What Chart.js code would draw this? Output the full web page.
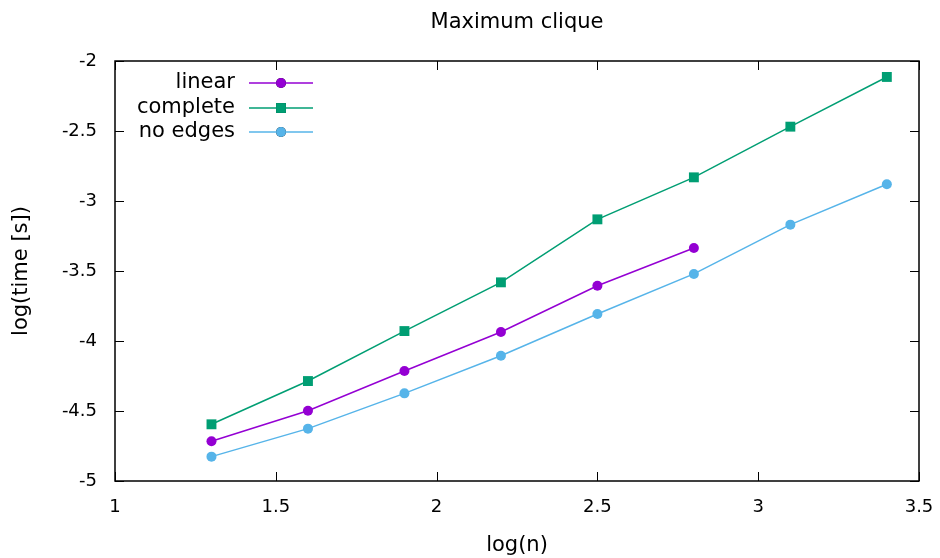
<!DOCTYPE html>
<html>
<head>
<meta charset="utf-8">
<script src="https://cdn.jsdelivr.net/npm/chart.js@4.4.1/dist/chart.umd.min.js"></script>
<style>
  html, body { margin: 0; padding: 0; background: #fff; }
  #wrap { width: 940px; height: 558px; }
</style>
</head>
<body>
<div id="wrap"><canvas id="chart"></canvas></div>
<script>
// log(n) positions
const logN = [1.3, 1.6, 1.9, 2.2, 2.5, 2.8, 3.1, 3.4];

// log(time [s]) per graph type
const linearTimes   = [-4.716, -4.498, -4.214, -3.936, -3.605, -3.336];
const completeTimes = [-4.595, -4.286, -3.929, -3.581, -3.131, -2.831, -2.469, -2.114];
const noEdgeTimes   = [-4.826, -4.626, -4.374, -4.105, -3.807, -3.521, -3.169, -2.880];

const FONT = 'DejaVu Sans, sans-serif';

function pts(ys) {
    return ys.map((y, i) => ({ x: logN[i], y: y }));
}

// gnuplot style: inward ticks on all four sides, box, title, legend
const gnuplotLook = {
    id: 'gnuplotLook',
    afterDraw(chart) {
        const ctx = chart.ctx;
        const a = chart.chartArea;
        const xs = chart.scales.x, ys = chart.scales.y;
        ctx.save();
        ctx.strokeStyle = '#000';
        ctx.lineWidth = 1;
        ctx.beginPath();
        xs.ticks.forEach(t => {
            const px = Math.round(xs.getPixelForValue(t.value)) + 0.5;
            ctx.moveTo(px, a.bottom); ctx.lineTo(px, a.bottom - 9);
            ctx.moveTo(px, a.top); ctx.lineTo(px, a.top + 9);
        });
        ys.ticks.forEach(t => {
            const py = Math.round(ys.getPixelForValue(t.value)) + 0.5;
            ctx.moveTo(a.left, py); ctx.lineTo(a.left + 9, py);
            ctx.moveTo(a.right, py); ctx.lineTo(a.right - 9, py);
        });
        ctx.stroke();
        ctx.lineWidth = 1.5;
        ctx.strokeRect(a.left, a.top, a.right - a.left, a.bottom - a.top);

        // title
        ctx.fillStyle = '#000';
        ctx.font = '21px ' + FONT;
        ctx.textAlign = 'center';
        ctx.textBaseline = 'middle';
        ctx.fillText('Maximum clique', (a.left + a.right) / 2, 23);

        // legend, text left of sample
        const rows = [83, 108, 132];
        chart.data.datasets.forEach((ds, i) => {
            const y = rows[i];
            ctx.textAlign = 'right';
            ctx.fillStyle = '#000';
            ctx.fillText(ds.label, 235, y);
            ctx.strokeStyle = ds.borderColor;
            ctx.lineWidth = 1.5;
            ctx.beginPath();
            ctx.moveTo(249, y); ctx.lineTo(313, y);
            ctx.stroke();
            Chart.helpers.drawPoint(ctx, {
                pointStyle: ds.pointStyle,
                radius: ds.pointRadius,
                borderWidth: 0
            }, 281, y);
            ctx.fillStyle = ds.backgroundColor;
            ctx.fill();
        });
        ctx.restore();
    }
};

function series(label, ys, color, style, r) {
    return {
        label: label,
        data: pts(ys),
        borderColor: color,
        backgroundColor: color,
        borderWidth: 1.5,
        pointStyle: style,
        pointRadius: r,
        pointBorderWidth: 0,
        tension: 0
    };
}

const plain = v => String(v);

new Chart(document.getElementById('chart'), {
    type: 'line',
    data: {
        datasets: [
            series('linear', linearTimes, '#9400d3', 'circle', 5),
            series('complete', completeTimes, '#009e73', 'rect', 7),
            series('no edges', noEdgeTimes, '#56b4e9', 'circle', 5)
        ]
    },
    options: {
        responsive: true,
        maintainAspectRatio: false,
        animation: false,
        layout: { padding: { top: 61, right: 0, left: 0, bottom: 0 } },
        plugins: {
            legend: { display: false },
            title: { display: false },
            tooltip: { enabled: false }
        },
        scales: {
            x: {
                type: 'linear',
                min: 1, max: 3.5,
                grid: { display: false, drawTicks: false },
                border: { display: false },
                ticks: { stepSize: 0.5, padding: 16, color: '#000', callback: plain, font: { family: FONT, size: 18 } },
                title: { display: true, text: 'log(n)', color: '#000', font: { family: FONT, size: 21 }, padding: { top: 10, bottom: 0 } },
                afterFit(scale) { scale.height = 77; scale.paddingRight = 21; }
            },
            y: {
                min: -5, max: -2,
                grid: { display: false, drawTicks: false },
                border: { display: false },
                ticks: { stepSize: 0.5, padding: 18, color: '#000', callback: plain, font: { family: FONT, size: 18 } },
                title: { display: true, text: 'log(time [s])', color: '#000', font: { family: FONT, size: 21 }, padding: { top: 9, bottom: 4 } },
                afterFit(scale) { scale.width = 115; }
            }
        }
    },
    plugins: [gnuplotLook]
});
</script>
</body>
</html>
